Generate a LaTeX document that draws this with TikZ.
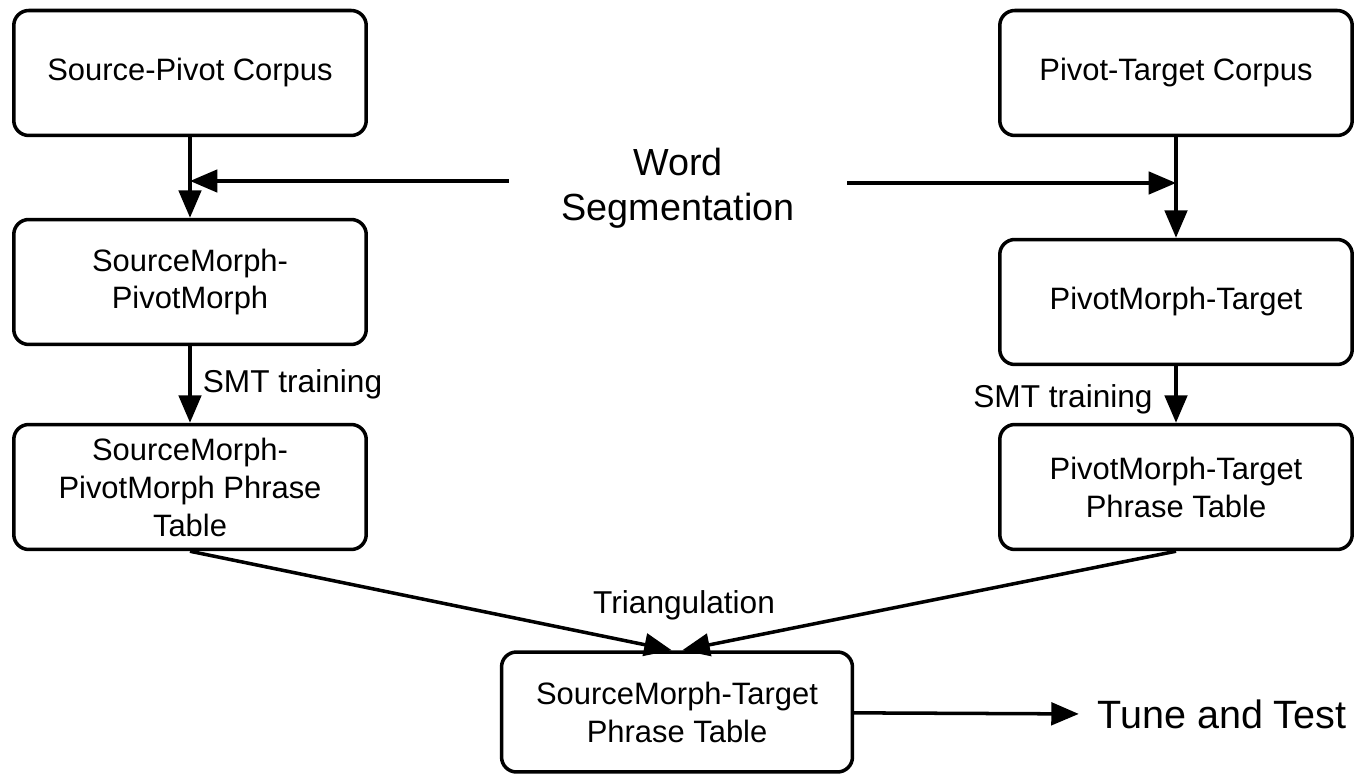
\documentclass[tikz,border=0pt]{standalone}
\usepackage{fontspec}
\setmainfont{Liberation Sans}
\usetikzlibrary{arrows.meta}

\begin{document}
\begin{tikzpicture}[x=0.02cm,y=-0.02cm,
    box/.style={draw=black,line width=2pt,rounded corners=0.3cm,align=center,minimum width=7.05cm,minimum height=2.5cm,font=\fontsize{17.6}{21.6}\selectfont},
    lab/.style={font=\fontsize{18}{21.6}\selectfont},
    biglab/.style={font=\fontsize{21.5}{25.5}\selectfont,align=center},
    arr/.style={line width=2pt,-{Triangle[length=0.55cm,width=0.45cm]}}]
                \useasboundingbox (0,0) rectangle (1355,776);
                \node[box] (spc) at (190,73) {Source-Pivot Corpus};
                \node[box] (ptc) at (1176,73) {Pivot-Target Corpus};
                \node[box] (smpm) at (190,282) {SourceMorph-\\PivotMorph};
                \node[box] (pmt) at (1176,302) {PivotMorph-Target};
                \node[box] (smpmpt) at (190,487) {SourceMorph-\\PivotMorph Phrase\\Table};
                \node[box] (pmtpt) at (1176,487) {PivotMorph-Target\\Phrase Table};
                \node[box,minimum width=7.02cm,minimum height=2.4cm] (smtpt) at (677,712) {SourceMorph-Target\\Phrase Table};
                \node[biglab,inner xsep=1.05cm] (ws) at (678,188) {Word\\Segmentation};
                \node[biglab,font=\fontsize{22.5}{26}\selectfont] (tt) at (1222,714) {Tune and Test};
                \coordinate (wl) at (190,181);
                \coordinate (wr) at (1176,183);

                \draw [arr] (spc) -- (smpm);
                \draw [arr] (ptc) -- (pmt);
                \draw [arr] (ws.west |- wl) -- (wl);
                \draw [arr] (ws.east |- wr) -- (wr);
                \draw [arr] (smpm) -- (smpmpt) node[lab, midway, right, xshift=3pt] {SMT training};
                \draw [arr] (pmt) -- (pmtpt) node[lab, midway, left, xshift=-9pt, yshift=-3pt] {SMT training};
                \draw [arr] (smpmpt.south) -- ([xshift=-3pt]smtpt.north);
                \draw [arr] (pmtpt.south) -- ([xshift=3pt]smtpt.north) node[lab, pos=0.8, above=0.05cm, xshift=-1.94cm] {Triangulation};
                \draw [arr, shorten >=0.25cm] (smtpt) -- (tt.west);
            \end{tikzpicture}
\end{document}
